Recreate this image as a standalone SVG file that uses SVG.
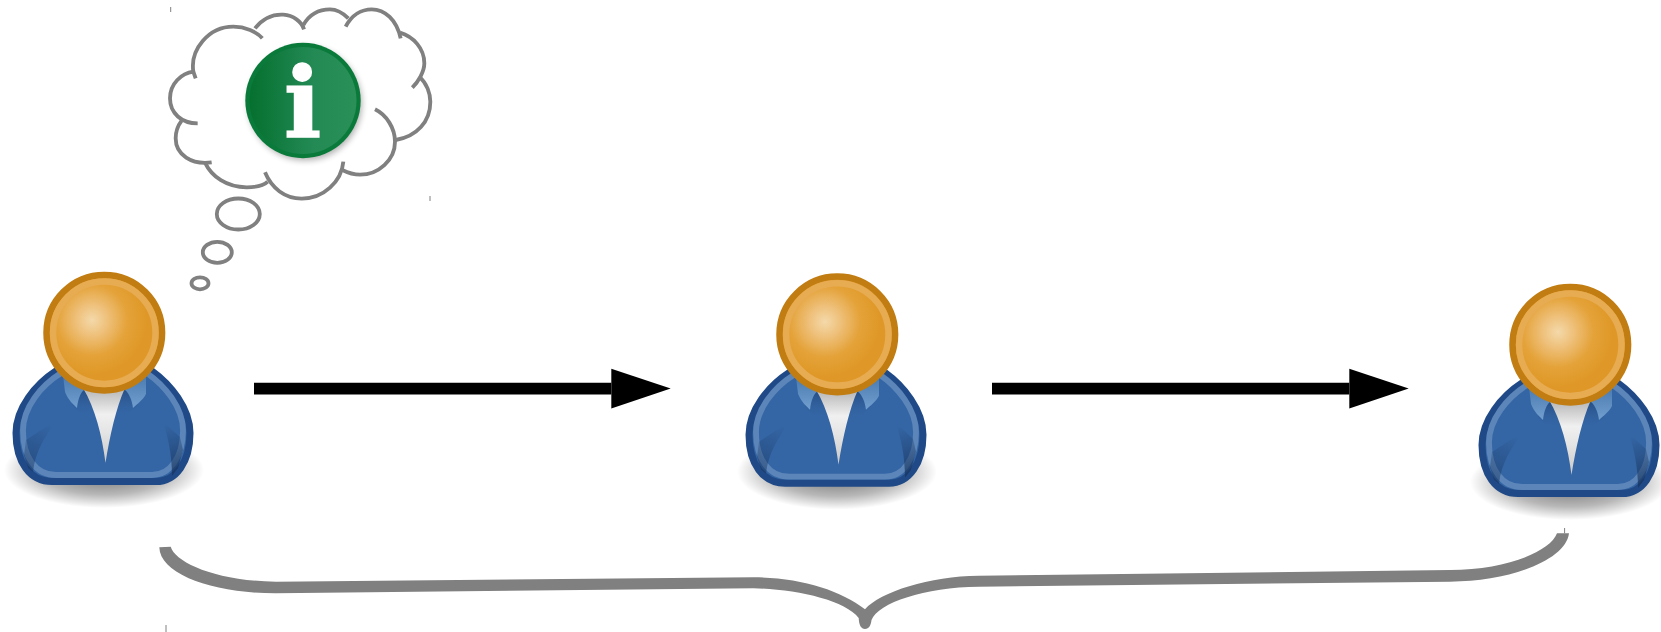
<svg xmlns="http://www.w3.org/2000/svg" xmlns:xlink="http://www.w3.org/1999/xlink" width="1661" height="632" viewBox="0 0 1661 632">
<style>
.cloud{fill:none;stroke:#808080;stroke-width:11.5}
.bubble{fill:none;stroke:#808080;stroke-width:3.8}
.tick{stroke:#808080;stroke-width:1}
.arrow{stroke:#000;stroke-width:11.7;marker-end:url(#head)}
.brace{fill:#808080}
</style>
<defs>
<marker id="head" markerUnits="userSpaceOnUse" markerWidth="60" markerHeight="40" refX="0" refY="20" orient="auto" overflow="visible"><path d="M0,0 L59.4,19.8 L0,39.7 Z" fill="#000"/></marker>
<radialGradient id="faceG" gradientUnits="userSpaceOnUse" cx="92" cy="320" r="55">
<stop offset="0" stop-color="#f4d9aa"/><stop offset=".3" stop-color="#eebf78"/><stop offset=".65" stop-color="#e4a238"/><stop offset="1" stop-color="#df9827"/>
</radialGradient>
<radialGradient id="shadowG" gradientUnits="objectBoundingBox" cx=".5" cy=".5" r=".5">
<stop offset="0" stop-color="#000" stop-opacity=".6"/><stop offset=".65" stop-color="#000" stop-opacity=".28"/><stop offset="1" stop-color="#000" stop-opacity="0"/>
</radialGradient>
<linearGradient id="shirtG" x1="0" y1="0" x2="0" y2="1">
<stop offset="0" stop-color="#b4b4b4"/><stop offset=".35" stop-color="#f0f0f0"/><stop offset=".6" stop-color="#e4e4e4"/><stop offset="1" stop-color="#c8c8c8"/>
</linearGradient>
<linearGradient id="collarG" gradientUnits="userSpaceOnUse" x1="0" y1="375" x2="0" y2="408">
<stop offset="0" stop-color="#4a7ab0"/><stop offset="1" stop-color="#729fcf"/>
</linearGradient>
<linearGradient id="neckG" gradientUnits="userSpaceOnUse" x1="0" y1="388" x2="0" y2="416">
<stop offset="0" stop-color="#1d3f70" stop-opacity=".7"/><stop offset="1" stop-color="#3465a4" stop-opacity="0"/>
</linearGradient>
<linearGradient id="foldL" gradientUnits="userSpaceOnUse" x1="28" y1="470" x2="50" y2="425">
<stop offset="0" stop-color="#17335c" stop-opacity=".5"/><stop offset="1" stop-color="#17335c" stop-opacity="0"/>
</linearGradient>
<linearGradient id="foldR" gradientUnits="userSpaceOnUse" x1="178" y1="470" x2="164" y2="425">
<stop offset="0" stop-color="#17335c" stop-opacity=".7"/><stop offset="1" stop-color="#17335c" stop-opacity="0"/>
</linearGradient>
<linearGradient id="infoG" x1="0" y1="0" x2="1" y2="0">
<stop offset="0" stop-color="#05702f"/><stop offset=".6" stop-color="#238a55"/><stop offset="1" stop-color="#2a9058"/>
</linearGradient>
<filter id="blur" x="-30%" y="-30%" width="160%" height="160%"><feGaussianBlur stdDeviation="3"/></filter>
<g id="person">
<ellipse cx="104" cy="470" rx="100" ry="38" fill="url(#shadowG)"/>
<path d="M56,371 C36,384 16,408 16,433 C16,462 30,481.500 52,481.500 L156,481.500 C176,481.500 190,462 190,433 C190,408 170,384 152,371 Z" fill="#3465a4" stroke="#204a87" stroke-width="7"/>
<path d="M60.700,373.300 C41.400,385.300 23,407.400 23,430.400 C23,457 35.800,475 56.100,475 L151.800,475 C170.200,475 183,457 183,430.400 C183,407.400 164.600,385.300 147.200,373.300" fill="none" stroke="#5c86b9" stroke-width="5.800"/>
<path d="M57,420 C45,436 35,452 33,472 L28,468 L24,455 L26,440 Z" fill="url(#foldL)"/>
<path d="M163,422 C168,436 172,455 172,476 L178,468 L183,450 L180,437 Z" fill="url(#foldR)"/>
<path d="M72,388 L138,388 L138,405 L126,416 L106,468 L82,416 L72,405 Z" fill="url(#neckG)"/>
<path d="M83,388 L125,388 C116,408 110,435 105.500,463 C102,435 95,408 83,388 Z" fill="url(#shirtG)"/>
<path d="M63,375 L65,392 C68,400 74,405 77,408 C78,400 80,393 84,390 L84,380 Z" fill="url(#collarG)"/>
<path d="M146,375 L146,394 C143,400 137,404 133,408 C132,400 129,393 125,390 L125,380 Z" fill="url(#collarG)"/>
<circle cx="104.300" cy="332.700" r="57.800" fill="url(#faceG)" stroke="#c17d11" stroke-width="6.500"/>
<circle cx="104.300" cy="332.700" r="51.200" fill="none" stroke="#e7ab52" stroke-width="6.500"/>
</g>
</defs>
<rect width="1661" height="632" fill="#fff"/>
<g id="person1"><use xlink:href="#person" href="#person"/></g>
<g id="person2"><use xlink:href="#person" href="#person" x="733" y="1.700"/></g>
<g id="person3"><use xlink:href="#person" href="#person" x="1466" y="12"/></g>
<g id="thought">
<g transform="translate(155,0) scale(.33333)">
<path class="cloud" d="M128,370 C80,370 45,340 45,295 C45,250 80,220 115,215 L122,235"/>
<path class="cloud" d="M115,215 C105,150 160,80 235,80 C270,80 305,95 322,115"/>
<path class="cloud" d="M300,85 C320,60 350,42 385,44 C415,46 440,65 447,88"/>
<path class="cloud" d="M445,75 C465,40 495,28 525,28 C550,28 570,45 580,55"/>
<path class="cloud" d="M572,80 C590,45 620,28 650,28 C690,28 725,60 737,115"/>
<path class="cloud" d="M735,98 C775,110 808,145 808,190 C808,215 790,245 772,263"/>
<path class="cloud" d="M795,232 C815,250 826,280 826,305 C826,365 785,410 722,420"/>
<path class="cloud" d="M660,328 C695,345 720,385 720,425 C720,480 670,524 615,524 C595,524 578,518 562,510"/>
<path class="cloud" d="M565,485 C560,545 505,596 440,596 C390,596 350,565 330,517"/>
<path class="cloud" d="M338,545 C325,558 300,562 275,562 C215,562 170,530 150,488"/>
<path class="cloud" d="M170,487 C110,495 62,465 62,415 C62,395 70,375 80,362"/>
</g>
<ellipse class="bubble" cx="238.300" cy="214" rx="21.500" ry="15.500"/>
<ellipse class="bubble" cx="217.300" cy="252.300" rx="14.500" ry="10.500"/>
<ellipse class="bubble" cx="200" cy="283.300" rx="8.500" ry="6"/>
<line class="tick" x1="170.700" y1="7" x2="170.700" y2="12"/>
<line class="tick" x1="430" y1="196" x2="430" y2="201"/>
</g>
<g id="info">
<circle cx="305" cy="103.500" r="57" fill="#000" opacity=".3" filter="url(#blur)"/>
<circle cx="303" cy="100.500" r="57.700" fill="#0a7a3a"/>
<circle cx="303" cy="100.500" r="53.500" fill="url(#infoG)"/>
<text x="302.700" y="136.600" text-anchor="middle" font-family="'DejaVu Serif',serif" font-weight="700" font-size="98" fill="#fff" stroke="#fff" stroke-width="1.500">i</text>
</g>
<g id="connectors">
<line class="arrow" x1="254" y1="388.700" x2="611.300" y2="388.700"/>
<line class="arrow" x1="992" y1="388.700" x2="1349.300" y2="388.700"/>
</g>
<g id="brace">
<path class="brace" d="M159.300,547.300 L170.700,546.700 C175,562 215,581 276,581.700 L753.500,577.300 C800,577.300 840,590 865,609.300 C880,592 930,576 978.700,575.700 L1450,570 C1505,570 1550,552 1557,533.300 L1569,533.300 C1566,560 1510,581.700 1450,581.700 L978.700,586.700 C925,587 878,603 871.500,620 C871,625 869,629 865,629 C861,629 859,625 858.700,618 C845,600 795,589 753.500,588.300 L276,593.300 C215,593.500 160,575 159.300,547.300 Z"/>
<line class="tick" x1="1564.600" y1="528" x2="1564.600" y2="533.300"/>
<line class="tick" x1="166" y1="625" x2="166" y2="632"/>
</g>
</svg>
